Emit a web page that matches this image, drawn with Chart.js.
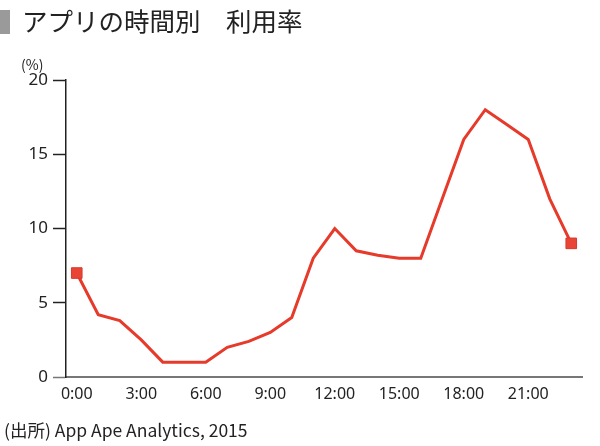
<!DOCTYPE html>
<html>
<head>
<meta charset="utf-8">
<script src="https://cdn.jsdelivr.net/npm/chart.js@4"></script>
<style>
  html,body{margin:0;padding:0;background:#fff;}
  body{width:600px;height:446px;position:relative;overflow:hidden;font-family:"Noto Sans CJK JP","Noto Sans",sans-serif;color:#222;}
  #wrap{position:absolute;left:0;top:0;width:600px;height:446px;}
  .title{position:absolute;left:0;top:1px;font-size:25.5px;line-height:38px;white-space:pre;}
  .title .bar{display:inline-block;width:10px;height:24px;background:#9a9a9a;vertical-align:-3px;margin-right:12px;}
  .unit{position:absolute;left:21px;top:54px;font-size:14px;}
  .source{position:absolute;left:4px;top:417px;font-size:17.5px;}
</style>
</head>
<body>
<div id="wrap"><canvas id="chart" width="600" height="446"></canvas></div>
<div class="title"><span class="bar"></span>アプリの時間別　利用率</div>
<div class="unit">(%)</div>
<div class="source">(出所) App Ape Analytics, 2015</div>
<script>
const hours = ['0:00','1:00','2:00','3:00','4:00','5:00','6:00','7:00','8:00','9:00','10:00','11:00',
               '12:00','13:00','14:00','15:00','16:00','17:00','18:00','19:00','20:00','21:00','22:00','23:00'];
const usage = [7, 4.2, 3.8, 2.5, 1, 1, 1, 2, 2.4, 3, 4, 8,
               10, 8.5, 8.2, 8, 8, 12, 16, 18, 17, 16, 12, 9];
const yTicks = [0, 5, 10, 15, 20];

const red = '#e63a2b';
const last = usage.length - 1;

new Chart(document.getElementById('chart'), {
  type:'line',
  data:{
    labels: hours,
    datasets:[{
      data: usage,
      borderColor: red,
      borderWidth: 3,
      tension: 0,
      pointStyle: 'rect',
      pointRadius: (c)=> (c.dataIndex===0 || c.dataIndex===last) ? 7.5 : 0,
      pointBackgroundColor: '#e84536',
      pointBorderColor: '#d8392b',
      pointBorderWidth: 1
    }]
  },
  options:{
    responsive:false,
    animation:false,
    layout:{ padding:{ left:0, top:80, right:18, bottom:0 } },
    plugins:{ legend:{display:false}, tooltip:{enabled:false} },
    scales:{
      x:{
        offset:true,
        grid:{ display:true, drawOnChartArea:false, drawTicks:false },
        border:{ color:'#777', width:2 },
        ticks:{
          autoSkip:false, maxRotation:0, padding:8,
          color:'#222', font:{ family:'"Noto Sans", sans-serif', size:16 },
          callback:(v,i)=> i%3===0 ? hours[i] : null
        },
        afterFit:(s)=>{ s.height = 69; }
      },
      y:{
        min:0, max:20,
        afterBuildTicks:(s)=>{ s.ticks = yTicks.map(v=>({value:v})); },
        grid:{ drawOnChartArea:false, drawTicks:true, tickLength:13, tickWidth:1.5,
               color:(c)=> c.tick && c.tick.value===0 ? '#777' : '#222' },
        border:{ color:'#222', width:1.5 },
        ticks:{ padding:5, color:'#222', font:{ family:'"Noto Sans", sans-serif', size:17 } },
        afterFit:(s)=>{ s.width = 66; }
      }
    }
  }
});
</script>
</body>
</html>
